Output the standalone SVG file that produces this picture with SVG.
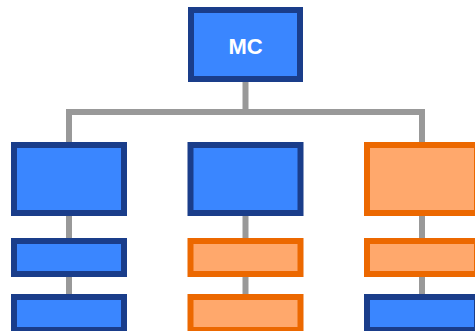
<svg xmlns="http://www.w3.org/2000/svg" width="475" height="331" viewBox="0 0 475 331">
  <style>
    .blue { fill: #3a86ff; stroke: #1a3d8a; stroke-width: 6; }
    .orange { fill: #ffa86c; stroke: #ec6800; stroke-width: 6; }
    .link { fill: none; stroke: #999999; stroke-width: 6; }
    .label { font-family: "Liberation Sans", Arial, sans-serif; font-weight: bold; font-size: 22px; fill: #ffffff; text-anchor: middle; }
  </style>
  <rect width="475" height="331" fill="#ffffff"/>
  <g id="connectors">
    <path class="link" d="M245.5 82 V112 M69 142 V112 H422 V142"/>
    <path class="link" d="M69 216 V238 M69 277 V294"/>
    <path class="link" d="M245.5 216 V238 M245.5 277 V294"/>
    <path class="link" d="M422 216 V238 M422 277 V294"/>
  </g>
  <g id="mc">
    <rect class="blue" x="191" y="10" width="109" height="69"/>
    <text class="label" x="245.5" y="53.5">MC</text>
  </g>
  <g id="left-1"><rect class="blue" x="14" y="145" width="110" height="68"/></g>
  <g id="left-2"><rect class="blue" x="14" y="241" width="110" height="33"/></g>
  <g id="left-3"><rect class="blue" x="14" y="297" width="110" height="33"/></g>
  <g id="mid-1"><rect class="blue" x="190.5" y="145" width="110" height="68"/></g>
  <g id="mid-2"><rect class="orange" x="190.5" y="241" width="110" height="33"/></g>
  <g id="mid-3"><rect class="orange" x="190.5" y="297" width="110" height="33"/></g>
  <g id="right-1"><rect class="orange" x="367" y="145" width="110" height="68"/></g>
  <g id="right-2"><rect class="orange" x="367" y="241" width="110" height="33"/></g>
  <g id="right-3"><rect class="blue" x="367" y="297" width="110" height="33"/></g>
</svg>
